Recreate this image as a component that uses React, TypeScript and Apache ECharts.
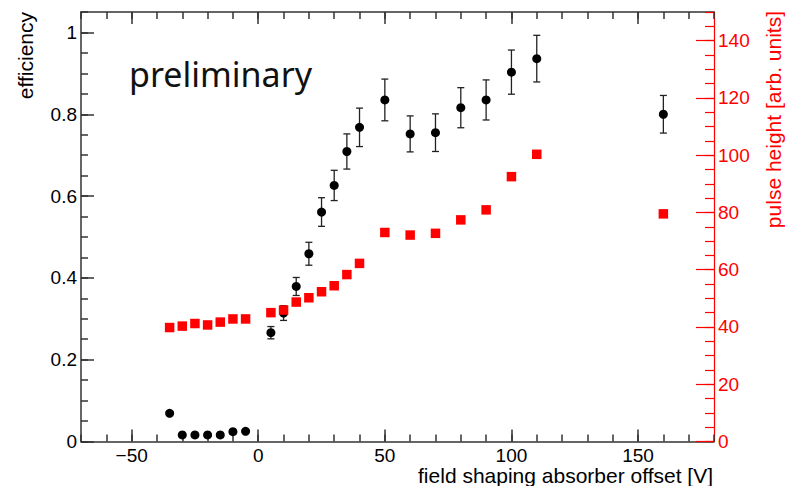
import React, { useEffect, useRef } from "react";
import * as echarts from "echarts";

// Field shaping absorber offset [V]
const voltages = [-35, -30, -25, -20, -15, -10, -5, 5, 10, 15, 20, 25, 30, 35, 40, 50, 60, 70, 80, 90, 100, 110, 160];
// Efficiency (black circles)
const efficiency = [0.069, 0.016, 0.016, 0.016, 0.016, 0.024, 0.025, 0.266, 0.314, 0.379, 0.459, 0.561, 0.626, 0.709, 0.768, 0.835, 0.752, 0.755, 0.816, 0.835, 0.903, 0.936, 0.800];
const efficiencyErr = [0.005, 0.004, 0.004, 0.004, 0.004, 0.005, 0.005, 0.015, 0.018, 0.022, 0.028, 0.035, 0.037, 0.043, 0.047, 0.051, 0.044, 0.046, 0.049, 0.049, 0.054, 0.057, 0.046];
// Pulse height [arb. units] (red squares)
const pulseHeight = [39.8, 40.3, 41.2, 40.7, 41.7, 42.8, 42.8, 45.0, 45.9, 48.7, 50.2, 52.3, 54.4, 58.3, 62.2, 73.0, 72.1, 72.7, 77.4, 80.9, 92.5, 100.3, 79.5];

// Tick positions / labels
const xMajorTicks = [-50, 0, 50, 100, 150];
const yLeftMajorTicks = [0, 0.2, 0.4, 0.6, 0.8, 1];
const yRightMajorTicks = [0, 20, 40, 60, 80, 100, 120, 140];

const AXIS = "#333";
const RED = "#ff0000";
const FONT = "'Liberation Sans', Arial, Helvetica, sans-serif";

export default function App() {
  const ref = useRef<HTMLDivElement>(null);

  useEffect(() => {
    if (!ref.current) return;
    const chart = echarts.init(ref.current, null, { renderer: "svg" });

    const effData = voltages.map((v, i) => [v, efficiency[i]]);
    const errData = voltages.map((v, i) => [v, efficiency[i], efficiencyErr[i]]);
    const pulseData = voltages.map((v, i) => [v, pulseHeight[i]]);

    const xBase = {
      type: "value",
      min: -70,
      max: 180,
      splitLine: { show: false },
    };
    const yLeftBase = { type: "value", min: 0, max: 1.05, splitLine: { show: false } };
    const yRightBase = { type: "value", min: 0, max: 150, splitLine: { show: false } };

    const option: any = {
      animation: false,
      grid: { left: 81, top: 12, width: 633, height: 429.5, containLabel: false, outerBoundsMode: "none" },
      xAxis: [
        {
          ...xBase,
          position: "bottom",
          axisLine: { show: true, onZero: false, lineStyle: { color: AXIS, width: 1.5 } },
          axisTick: { show: true, inside: true, length: 12, customValues: xMajorTicks, lineStyle: { color: AXIS, width: 1.5 } },
          axisLabel: {
            show: true,
            customValues: xMajorTicks,
            formatter: (v: number) => (v < 0 ? "\u2212" + Math.abs(v) : String(v)),
            fontSize: 19,
            color: "#000",
            fontFamily: FONT,
            margin: 4,
          },
        },
        {
          ...xBase,
          position: "bottom",
          interval: 10,
          axisLine: { show: false, onZero: false },
          axisTick: { show: true, inside: true, length: 7, lineStyle: { color: AXIS, width: 1.5 } },
          axisLabel: { show: false },
        },
        {
          ...xBase,
          position: "top",
          axisLine: { show: true, onZero: false, lineStyle: { color: AXIS, width: 1.5 } },
          axisTick: { show: true, inside: true, length: 12, customValues: xMajorTicks, lineStyle: { color: AXIS, width: 1.5 } },
          axisLabel: { show: false },
        },
        {
          ...xBase,
          position: "top",
          interval: 10,
          axisLine: { show: false, onZero: false },
          axisTick: { show: true, inside: true, length: 7, lineStyle: { color: AXIS, width: 1.5 } },
          axisLabel: { show: false },
        },
      ],
      yAxis: [
        {
          ...yLeftBase,
          position: "left",
          axisLine: { show: true, onZero: false, lineStyle: { color: AXIS, width: 1.5 } },
          axisTick: { show: true, inside: true, length: 13, customValues: yLeftMajorTicks, lineStyle: { color: AXIS, width: 1.5 } },
          axisLabel: {
            show: true,
            customValues: yLeftMajorTicks,
            formatter: (v: number) => String(Math.round(v * 10) / 10),
            fontSize: 19,
            color: "#000",
            fontFamily: FONT,
            margin: 4,
          },
        },
        {
          ...yLeftBase,
          position: "left",
          interval: 0.05,
          axisLine: { show: false, onZero: false },
          axisTick: { show: true, inside: true, length: 7, lineStyle: { color: AXIS, width: 1.5 } },
          axisLabel: { show: false },
        },
        {
          ...yRightBase,
          position: "right",
          axisLine: { show: true, onZero: false, lineStyle: { color: RED, width: 1.2 } },
          axisTick: { show: true, inside: true, length: 18, customValues: yRightMajorTicks, lineStyle: { color: RED, width: 1.2 } },
          axisLabel: {
            show: true,
            customValues: yRightMajorTicks,
            fontSize: 19,
            color: RED,
            fontFamily: FONT,
            margin: 4,
          },
        },
        {
          ...yRightBase,
          position: "right",
          interval: 5,
          axisLine: { show: false, onZero: false },
          axisTick: { show: true, inside: true, length: 9, lineStyle: { color: RED, width: 1.2 } },
          axisLabel: { show: false },
        },
      ],
      graphic: [
        {
          type: "text",
          x: 25,
          y: 12,
          rotation: Math.PI / 2,
          style: {
            text: "efficiency",
            font: `21px ${FONT}`,
            fill: "#000",
            align: "right",
            textAlign: "right",
            verticalAlign: "middle",
            textVerticalAlign: "middle",
          },
        },
        {
          type: "text",
          x: 773,
          y: 11,
          rotation: Math.PI / 2,
          style: {
            text: "pulse height [arb. units]",
            font: `21px ${FONT}`,
            fill: RED,
            align: "right",
            textAlign: "right",
            verticalAlign: "middle",
            textVerticalAlign: "middle",
          },
        },
        {
          type: "text",
          x: 713,
          y: 475,
          style: {
            text: "field shaping absorber offset [V]",
            font: `21px ${FONT}`,
            fill: "#000",
            align: "right",
            textAlign: "right",
            verticalAlign: "middle",
            textVerticalAlign: "middle",
          },
        },
        {
          type: "text",
          x: 129,
          y: 74,
          style: {
            text: "preliminary",
            font: `34px 'Noto Sans', 'Open Sans', sans-serif`,
            fill: "#111",
            align: "left",
            textAlign: "left",
            verticalAlign: "middle",
            textVerticalAlign: "middle",
          },
        },
      ],
      series: [
        {
          type: "custom",
          name: "efficiency error",
          xAxisIndex: 0,
          yAxisIndex: 0,
          z: 2,
          data: errData,
          renderItem: (params: any, api: any) => {
            const x = api.value(0);
            const y = api.value(1);
            const e = api.value(2);
            const top = api.coord([x, y + e]);
            const bot = api.coord([x, y - e]);
            const hw = 3.5;
            const style = { stroke: "#222", lineWidth: 1.3 };
            return {
              type: "group",
              children: [
                { type: "line", shape: { x1: top[0], y1: top[1], x2: bot[0], y2: bot[1] }, style },
                { type: "line", shape: { x1: top[0] - hw, y1: top[1], x2: top[0] + hw, y2: top[1] }, style },
                { type: "line", shape: { x1: bot[0] - hw, y1: bot[1], x2: bot[0] + hw, y2: bot[1] }, style },
              ],
            };
          },
        },
        {
          type: "scatter",
          name: "efficiency",
          xAxisIndex: 0,
          yAxisIndex: 0,
          z: 3,
          symbol: "circle",
          symbolSize: 9,
          itemStyle: { color: "#000", opacity: 1 },
          data: effData,
        },
        {
          type: "scatter",
          name: "pulse height",
          xAxisIndex: 0,
          yAxisIndex: 2,
          z: 4,
          symbol: "rect",
          symbolSize: 9.5,
          itemStyle: { color: RED, opacity: 1 },
          data: pulseData,
        },
      ],
    };

    chart.setOption(option);
    return () => chart.dispose();
  }, []);

  return (
    <div
      ref={ref}
      style={{ position: "absolute", left: 0, top: 0, width: 785, height: 486, background: "#fff" }}
    />
  );
}
